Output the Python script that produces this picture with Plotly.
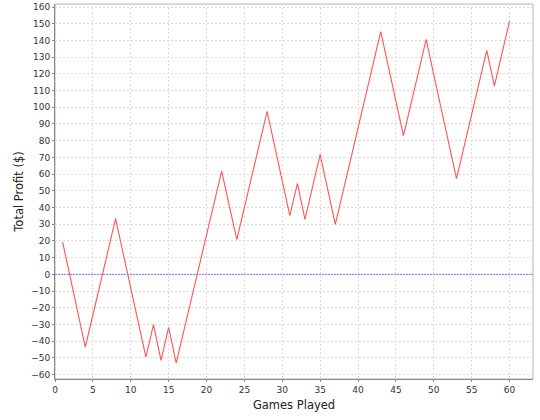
import plotly.graph_objects as go

games = list(range(1, 61))
profit = [19.5, -1.5, -22.5, -43.5, -24.3, -5.1, 14.1, 33.3, 12.5, -8.3,
          -29.0, -49.5, -30.1, -51.5, -31.7, -53.1, -33.9, -14.7, 4.5, 23.7,
          42.9, 61.8, 41.3, 20.8, 40.0, 59.1, 78.3, 97.5, 76.7, 55.9,
          35.1, 54.5, 32.9, 52.3, 71.8, 50.8, 29.9, 49.1, 68.3, 87.5,
          106.7, 125.9, 145.2, 124.5, 103.8, 83.0, 102.2, 121.4, 140.6, 119.6,
          98.6, 77.9, 57.3, 76.5, 95.7, 114.9, 134.0, 112.7, 132.2, 151.6]
baseline = 0
x_ticks = list(range(0, 61, 5))
y_ticks = list(range(-60, 161, 10))

fig = go.Figure()
fig.add_trace(go.Scatter(x=games, y=profit, mode="lines",
                         line=dict(color="#ff5555", width=1.1),
                         showlegend=False, hoverinfo="skip"))
# light plot frame (top/right), axis lines drawn darker on left/bottom
fig.add_shape(type="rect", xref="paper", yref="paper", x0=0, x1=1, y0=0, y1=1,
              line=dict(color="#b4b4b4", width=1), layer="between")
fig.add_shape(type="line", xref="paper", x0=0, x1=1, yref="y", y0=baseline, y1=baseline,
              line=dict(color="#7777ff", width=1, dash="2px,1px"), layer="above")

axis_common = dict(showgrid=True, gridcolor="#dcdcdc", griddash="2px,2px", gridwidth=1,
                   zeroline=False, showline=True, linecolor="#888888", linewidth=1,
                   ticks="outside", ticklen=2, tickcolor="#888888", automargin=False,
                   tickfont=dict(family="DejaVu Sans", size=9, color="#333333"))

fig.update_layout(
    width=540, height=420,
    margin=dict(l=55, r=7, t=4, b=41),
    paper_bgcolor="white", plot_bgcolor="white",
    xaxis=dict(range=[0, 63.1], tickvals=x_ticks,
               title=dict(text="Games Played", font=dict(family="DejaVu Sans", size=11.5, color="#222222"), standoff=7),
               **axis_common),
    yaxis=dict(range=[-62.6, 161.8], tickvals=y_ticks,
               title=dict(text="Total Profit ($)", font=dict(family="DejaVu Sans", size=11.5, color="#222222"), standoff=5),
               **axis_common),
)
fig.write_html("out.html", config={"displayModeBar": False},
               post_script="document.body.style.margin='0';")
